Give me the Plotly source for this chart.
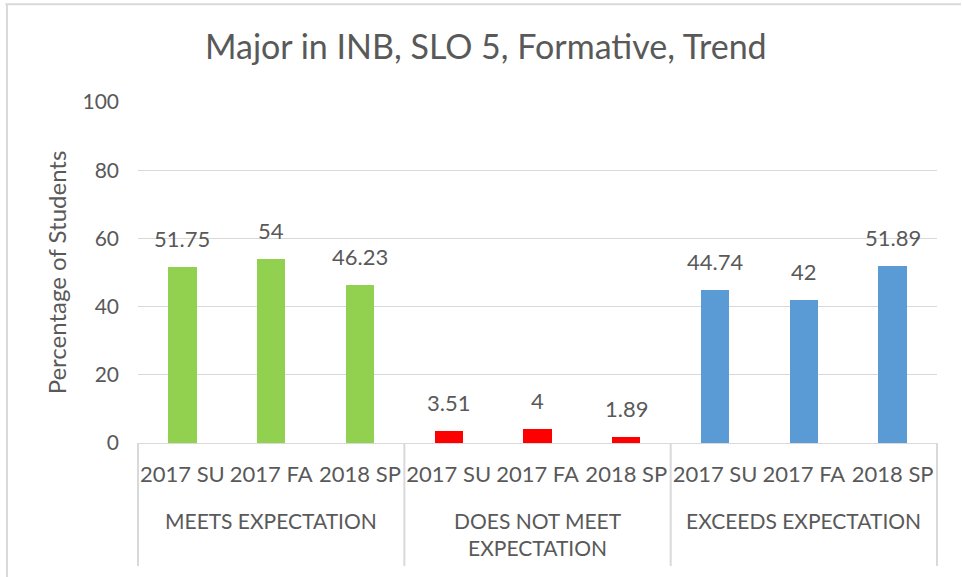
import plotly.graph_objects as go

# Outcome groups and the terms measured within each
groups = ["MEETS EXPECTATION", "DOES NOT MEET<br>EXPECTATION", "EXCEEDS EXPECTATION"]
terms = ["2017 SU", "2017 FA", "2018 SP"]

# Percentage of students per term, one list per outcome group
meets = [51.75, 54, 46.23]
does_not_meet = [3.51, 4, 1.89]
exceeds = [44.74, 42, 51.89]

group_values = [meets, does_not_meet, exceeds]
group_colors = ["#92D050", "#FF0000", "#5B9BD5"]

y_ticks = [0, 20, 40, 60, 80, 100]

FONT = "Lato"
TEXT = "#595959"
GRID = "#D9D9D9"

n_terms = len(terms)
n_slots = len(groups) * n_terms

fig = go.Figure()
positions = []
for gi, (vals, color) in enumerate(zip(group_values, group_colors)):
    xs = [gi * n_terms + ti for ti in range(n_terms)]
    positions.extend(xs)
    fig.add_trace(go.Bar(
        x=xs, y=vals, marker=dict(color=color, line=dict(width=0)),
        width=0.32, showlegend=False, hoverinfo="x+y",
    ))
    # value labels above each bar
    for x, v in zip(xs, vals):
        fig.add_annotation(
            x=x, y=v, xref="x", yref="y", text=f"{v:g}", showarrow=False,
            yanchor="bottom", yshift=13,
            font=dict(family=FONT, size=22, color=TEXT),
        )

# group labels beneath the term labels
for gi, g in enumerate(groups):
    center = gi * n_terms + (n_terms - 1) / 2
    fig.add_annotation(
        x=center, xref="x", y=-0.184, yref="paper", text=g, showarrow=False,
        yanchor="top", align="center",
        font=dict(family=FONT, size=21, color=TEXT),
    )

shapes = []
# divider lines between groups on the category axis
for b in range(len(groups) + 1):
    xp = (b * n_terms) / n_slots
    shapes.append(dict(type="line", xref="paper", yref="paper",
                       x0=xp, x1=xp, y0=0, y1=-0.361,
                       line=dict(color=GRID, width=2)))
# chart-area border (top and left edges)
shapes.append(dict(type="line", xref="paper", yref="paper",
                   x0=-0.166, x1=1.03, y0=1.287, y1=1.287,
                   line=dict(color=GRID, width=2)))
shapes.append(dict(type="line", xref="paper", yref="paper",
                   x0=-0.164, x1=-0.164, y0=1.287, y1=-0.40,
                   line=dict(color=GRID, width=2)))

fig.update_layout(
    width=962, height=577,
    margin=dict(l=138, r=25, t=102, b=134),
    paper_bgcolor="white", plot_bgcolor="white",
    bargap=0,
    title=dict(text="Major in INB, SLO 5, Formative, Trend",
               x=0.505, xref="container", xanchor="center",
               y=0.918, yanchor="middle",
               font=dict(family=FONT, size=34, color=TEXT)),
    xaxis=dict(
        range=[-0.5, n_slots - 0.5],
        tickmode="array", tickvals=positions,
        ticktext=[t for _ in groups for t in terms],
        tickfont=dict(family=FONT, size=22, color=TEXT),
        showgrid=False, zeroline=False,
        showline=True, linecolor=GRID, linewidth=1,
        ticks="", ticklabelstandoff=12,
    ),
    yaxis=dict(
        range=[0, 100], tickvals=y_ticks,
        tickfont=dict(family=FONT, size=21, color=TEXT),
        showgrid=True, gridcolor=GRID, gridwidth=1,
        zeroline=False, showline=False, ticks="",
        ticklabelstandoff=18,
        title=dict(text="Percentage of Students", standoff=9,
                   font=dict(family=FONT, size=24, color=TEXT)),
    ),
    shapes=shapes,
)

fig.write_html("out.html")
